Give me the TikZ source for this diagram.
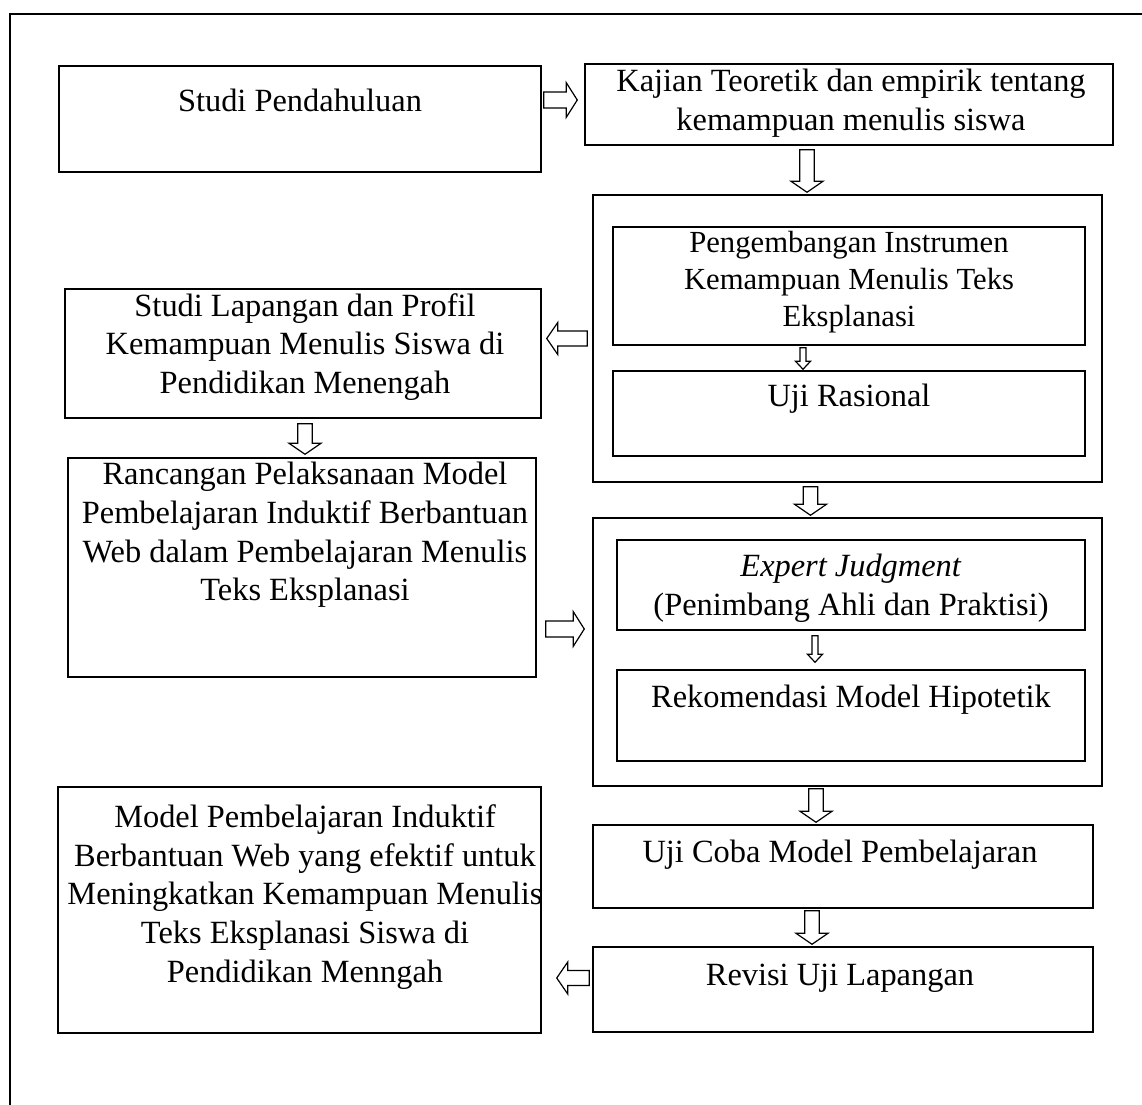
\documentclass[tikz,border=0pt]{standalone}
\usepackage{fontspec}
\setmainfont{Liberation Serif}
\usetikzlibrary{calc,fit}

\tikzset{
  box/.style={draw, line width=1.1pt, inner sep=0pt},
  txt/.style={align=center, font=\fontsize{24.3}{29}\selectfont, inner sep=0pt},
  txtsmall/.style={align=center, font=\fontsize{23}{27.75}\selectfont, inner sep=0pt},
  hollow/.style={draw, fill=white, line width=0.9pt, line join=miter}
}

% hollow block arrows: #1 from, #2 to, #3 shaft half width, #4 head half width, #5 head length
\newcommand{\hollowh}[5]{%
  \draw[hollow] let \p1=#1, \p2=#2, \n1={(\x2-\x1)/abs(\x2-\x1)} in
    (\x1,\y1+#3) -- (\x2-\n1*#5,\y1+#3) -- (\x2-\n1*#5,\y1+#4) -- (\x2,\y1)
    -- (\x2-\n1*#5,\y1-#4) -- (\x2-\n1*#5,\y1-#3) -- (\x1,\y1-#3) -- cycle;}
\newcommand{\hollowv}[5]{%
  \draw[hollow] let \p1=#1, \p2=#2, \n1={(\y2-\y1)/abs(\y2-\y1)} in
    (\x1+#3,\y1) -- (\x1+#3,\y2-\n1*#5) -- (\x1+#4,\y2-\n1*#5) -- (\x1,\y2)
    -- (\x1-#4,\y2-\n1*#5) -- (\x1-#3,\y2-\n1*#5) -- (\x1-#3,\y1) -- cycle;}

\begin{document}
\begin{tikzpicture}[x=0.75pt, y=-0.75pt]
  \useasboundingbox (0,0) rectangle (1142,1104);
  \draw[line width=1.1pt] (10,14) rectangle (1170,1130);

  % top row
  \node[box, fit={(59,66) (541,172)}] (studi) {};
  \node[txt] (studi-t) at (300,100) {Studi Pendahuluan};
  \node[box, fit={(585,64) (1113,145)}] (kajian) {};
  \node[txt] (kajian-t) at (851,103) {Kajian Teoretik dan empirik tentang\\kemampuan menulis siswa};

  % validation block
  \node[box, fit={(593,195) (1102,482)}] (valid) {};
  \node[box, fit={(613,227) (1085,345)}] (instrumen) {};
  \node[txtsmall] (instrumen-t) at (849,282) {Pengembangan Instrumen\\Kemampuan Menulis Teks\\Eksplanasi};
  \node[box, fit={(613,371) (1085,456)}] (rasional) {};
  \node[txt] (rasional-t) at (849,399) {Uji Rasional};

  % left column
  \node[box, fit={(65,289) (541,418)}] (lapangan) {};
  \node[txt] (lapangan-t) at (305,347) {Studi Lapangan dan Profil\\Kemampuan Menulis Siswa di\\Pendidikan Menengah};
  \node[box, fit={(68,458) (536,677)}] (rancangan) {};
  \node[txt] (rancangan-t) at (305,535) {Rancangan Pelaksanaan Model\\Pembelajaran Induktif Berbantuan\\Web dalam Pembelajaran Menulis\\Teks Eksplanasi};

  % expert block
  \node[box, fit={(593,518) (1102,786)}] (pakar) {};
  \node[box, fit={(617,540) (1085,630)}] (judgment) {};
  \node[txt] (judgment-t) at (851,588) {\textit{Expert Judgment}\\(Penimbang Ahli dan Praktisi)};
  \node[box, fit={(617,670) (1085,761)}] (hipotetik) {};
  \node[txt] (hipotetik-t) at (851,700) {Rekomendasi Model Hipotetik};

  % bottom
  \node[box, fit={(593,825) (1093,908)}] (ujicoba) {};
  \node[txt] (ujicoba-t) at (840,855) {Uji Coba Model Pembelajaran};
  \node[box, fit={(593,947) (1093,1032)}] (revisi) {};
  \node[txt] (revisi-t) at (840,978) {Revisi Uji Lapangan};
  \node[box, fit={(58,787) (541,1033)}] (model) {};
  \node[txt] (model-t) at (305,897) {Model Pembelajaran Induktif\\Berbantuan Web yang efektif untuk\\Meningkatkan Kemampuan Menulis\\Teks Eksplanasi Siswa di\\Pendidikan Menngah};

  % arrows
  \hollowh{($(studi.east)+(2,-19)$)}{($(kajian.west)+(-7,0)$)}{6pt}{13pt}{8.25pt}
  \hollowv{($(kajian.south)+(-42,4)$)}{($(valid.north)+(-42,-2)$)}{5.4pt}{12pt}{8.25pt}
  \hollowv{($(instrumen.south)+(-46,2)$)}{($(rasional.north)+(-46,-1)$)}{2.3pt}{5.6pt}{6pt}
  \hollowh{($(valid.west)+(-5,0)$)}{($(lapangan.east)+(5,0)$)}{5.6pt}{12pt}{8.25pt}
  \hollowv{($(lapangan.south)+(2,5)$)}{($(rancangan.north)+(2,-3)$)}{5.4pt}{12pt}{8.25pt}
  \hollowv{($(valid.south)+(-37,4)$)}{($(pakar.north)+(-37,-2)$)}{5.4pt}{12pt}{8.25pt}
  \hollowh{($(rancangan.east)+(9,61.5)$)}{($(pakar.west)+(-8,0)$)}{6pt}{13pt}{8.25pt}
  \hollowv{($(judgment.south)+(-36,5)$)}{($(hipotetik.north)+(-36,-7)$)}{2.3pt}{5.6pt}{6pt}
  \hollowv{($(pakar.south)+(-31.5,2)$)}{($(ujicoba.north)+(-31.5,-2)$)}{5.4pt}{12pt}{8.25pt}
  \hollowv{($(ujicoba.south)+(-31,2)$)}{($(revisi.north)+(-31,-2)$)}{5.4pt}{12pt}{8.25pt}
  \hollowh{($(revisi.west)+(-3,-11.5)$)}{($(model.east)+(15,0)$)}{5.6pt}{12pt}{8.25pt}
\end{tikzpicture}
\end{document}
